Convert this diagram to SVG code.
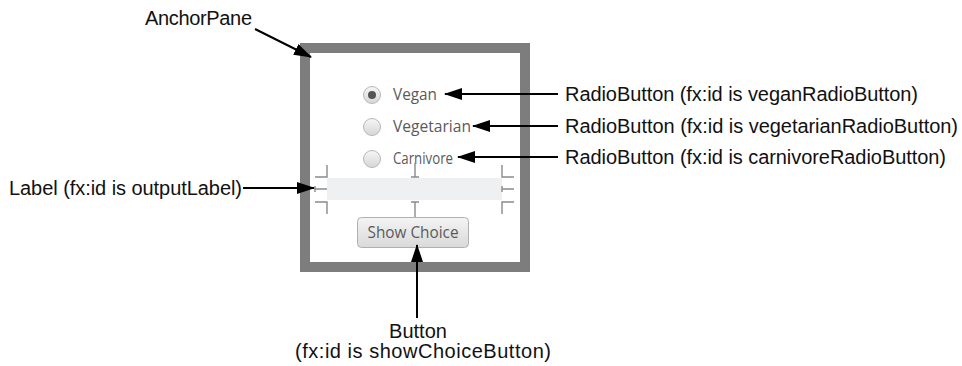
<svg xmlns="http://www.w3.org/2000/svg" width="962" height="366" viewBox="0 0 962 366">
<style>
.lbl{font-family:"Liberation Sans",Arial,sans-serif;font-size:20px;fill:#111}
.ui{font-family:"Open Sans","Liberation Sans",sans-serif;font-size:15.5px;fill:#5a5a5a}
.conn{stroke:#000;stroke-width:2;fill:none;marker-end:url(#ah)}
.mk{stroke:#8a8a8a;stroke-width:1.4;fill:none}
.radio{fill:url(#rg);stroke:#b8b8b8;stroke-width:1}
</style>
<defs>
<marker id="ah" viewBox="0 0 18 12" refX="17" refY="6" markerWidth="18" markerHeight="12" orient="auto" markerUnits="userSpaceOnUse">
<path d="M0,0 L18,6 L0,12 z" fill="#000"/>
</marker>
<linearGradient id="rg" x1="0" y1="0" x2="0" y2="1">
<stop offset="0" stop-color="#f6f6f6"/>
<stop offset="1" stop-color="#d6d6d6"/>
</linearGradient>
<linearGradient id="bg" x1="0" y1="0" x2="0" y2="1">
<stop offset="0" stop-color="#f4f4f4"/>
<stop offset="1" stop-color="#d9d9d9"/>
</linearGradient>
</defs>

<g id="anchorPane">
<rect x="305" y="48" width="220" height="219" fill="#fff" stroke="#7d7d7d" stroke-width="10"/>
</g>

<g id="veganRadio">
<circle class="radio" cx="372" cy="95" r="8.5"/>
<circle cx="372" cy="95" r="4" fill="#555"/>
<text class="ui" x="393" y="100" textLength="44" lengthAdjust="spacingAndGlyphs">Vegan</text>
</g>
<g id="vegetarianRadio">
<circle class="radio" cx="372" cy="127" r="8.5"/>
<text class="ui" x="393" y="132" textLength="78" lengthAdjust="spacingAndGlyphs">Vegetarian</text>
</g>
<g id="carnivoreRadio">
<circle class="radio" cx="372" cy="159" r="8.5"/>
<text class="ui" x="393" y="164" textLength="60" lengthAdjust="spacingAndGlyphs">Carnivore</text>
</g>

<g id="outputLabel">
<rect x="327" y="178" width="175" height="22" fill="#eef0f2"/>
<path class="mk" d="M327,165 V177 H315 M315,186 V192 M315,189 H327 M315,202 H327 V214"/>
<path class="mk" d="M502,165 V177 H514 M502,186 V192 M502,189 H514 M514,202 H502 V214"/>
<path class="mk" d="M415,163 V177 M411,177 H419 M411,202 H419 M415,202 V217"/>
</g>

<g id="showChoiceButton">
<rect x="357.5" y="217.5" width="111" height="30" rx="4" fill="url(#bg)" stroke="#b0b0b0"/>
<text class="ui" x="413" y="238" text-anchor="middle" font-size="16.5" textLength="91" lengthAdjust="spacingAndGlyphs">Show Choice</text>
</g>

<g id="labels">
<text class="lbl" x="145" y="25" textLength="107">AnchorPane</text>
<text class="lbl" x="565" y="101" textLength="353">RadioButton (fx:id is veganRadioButton)</text>
<text class="lbl" x="565" y="133" textLength="393">RadioButton (fx:id is vegetarianRadioButton)</text>
<text class="lbl" x="565" y="164" textLength="381">RadioButton (fx:id is carnivoreRadioButton)</text>
<text class="lbl" x="9" y="195" textLength="233">Label (fx:id is outputLabel)</text>
<text class="lbl" x="418" y="338" text-anchor="middle">Button</text>
<text class="lbl" x="423" y="358" text-anchor="middle" font-size="21" textLength="256">(fx:id is showChoiceButton)</text>
</g>

<g id="connectors">
<line class="conn" x1="255" y1="29" x2="311" y2="57"/>
<line class="conn" x1="558" y1="94" x2="445" y2="94"/>
<line class="conn" x1="558" y1="126" x2="473" y2="126"/>
<line class="conn" x1="558" y1="157" x2="458" y2="157"/>
<line class="conn" x1="243" y1="188" x2="314" y2="188"/>
<line class="conn" x1="417" y1="318" x2="417" y2="245"/>
</g>
</svg>
